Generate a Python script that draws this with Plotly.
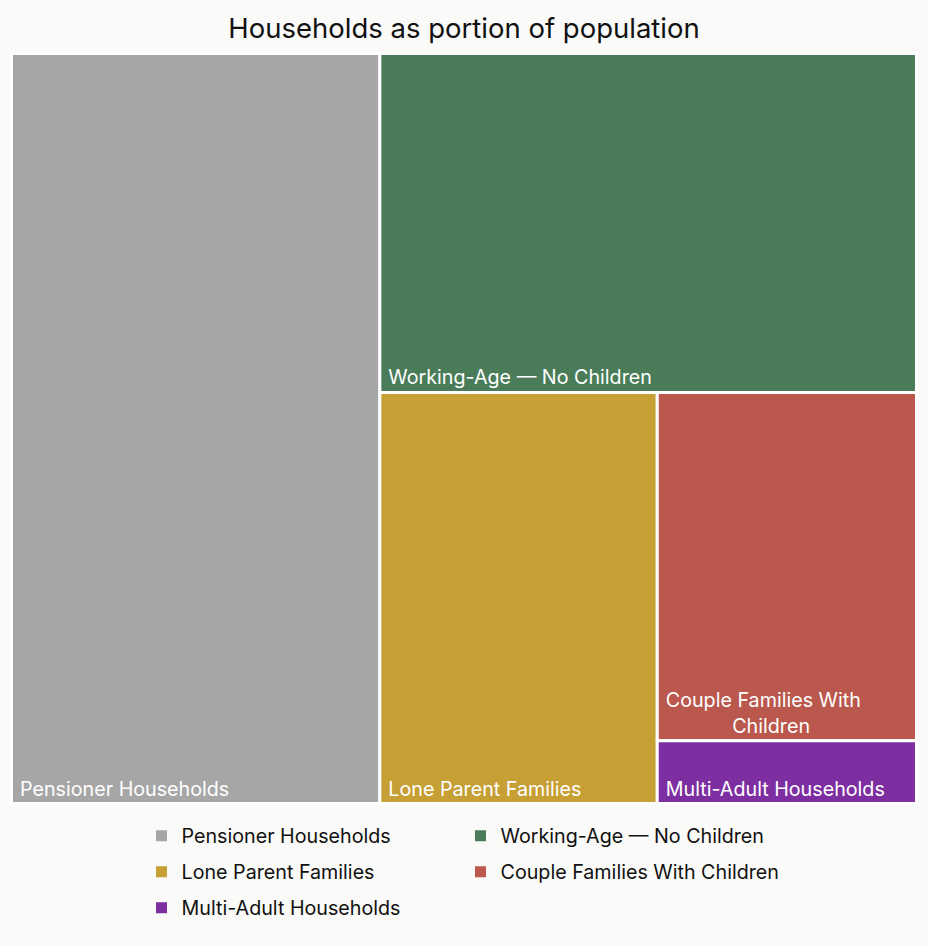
import plotly.graph_objects as go

categories = ["Pensioner Households", "Working-Age — No Children", "Lone Parent Families",
              "Couple Families With Children", "Multi-Adult Households"]
NB = "\u00a0"
tile_text = [NB + "Pensioner Households", NB + "Working-Age — No Children", NB + "Lone Parent Families",
             NB + "Couple Families With<br>" + NB * 13 + "Children", NB + "Multi-Adult Households"]
shares = [40.7, 26.8, 16.8, 13.3, 2.4]
colors = ["#a6a6a6", "#4a7c59", "#c6a035", "#ba584d", "#7d2fa1"]
legend_rows = [[0, 1], [2, 3], [4]]
legend_row_y = [836, 872, 908]

FONT = "Inter, Roboto, sans-serif"
BG = "#fafaf8"
W, H = 928, 946
PW, PH = 908, 753  # plot area size in px (for the thin white frame)

fig = go.Figure()
fig.add_trace(go.Treemap(
    labels=categories,
    parents=[""] * len(categories),
    values=shares,
    text=tile_text,
    texttemplate="%{text}",
    textposition="bottom left",
    marker=dict(colors=colors, line=dict(color="white", width=3),
                pad=dict(t=0, l=0, r=0, b=0)),
    insidetextfont=dict(family=FONT, size=19.7, color="white"),
    sort=False,
    tiling=dict(packing="squarify", pad=0),
    domain=dict(x=[1.5 / PW, 1 - 1.5 / PW], y=[1.5 / PH, 1 - 1.5 / PH]),
    hoverinfo="label+value",
))

legend_layouts = {}
for r, (idxs, ypx) in enumerate(zip(legend_rows, legend_row_y)):
    lname = "legend" if r == 0 else f"legend{r + 1}"
    for i in idxs:
        fig.add_trace(go.Scatter(
            x=[None], y=[None], mode="markers", name=categories[i],
            marker=dict(symbol="square", size=11, color=colors[i]),
            showlegend=True, legend=lname,
        ))
    legend_layouts[lname] = dict(
        orientation="h", x=141.5 / W, xanchor="left", xref="container",
        y=1 - ypx / H, yanchor="middle", yref="container",
        entrywidth=274, entrywidthmode="pixels",
        font=dict(family=FONT, size=19.7, color="#111111"),
        bgcolor="rgba(0,0,0,0)",
    )

fig.update_layout(
    width=W, height=H,
    paper_bgcolor=BG, plot_bgcolor="white",
    margin=dict(l=10, r=10, t=52, b=141),
    title=dict(text="Households as portion of population", x=0.5, xanchor="center",
               y=1 - 28 / H, yanchor="middle",
               font=dict(family=FONT, size=27.5, color="#111111")),
    xaxis=dict(visible=False),
    yaxis=dict(visible=False),
    showlegend=True,
    **legend_layouts,
)

fig.write_html("out.html")
